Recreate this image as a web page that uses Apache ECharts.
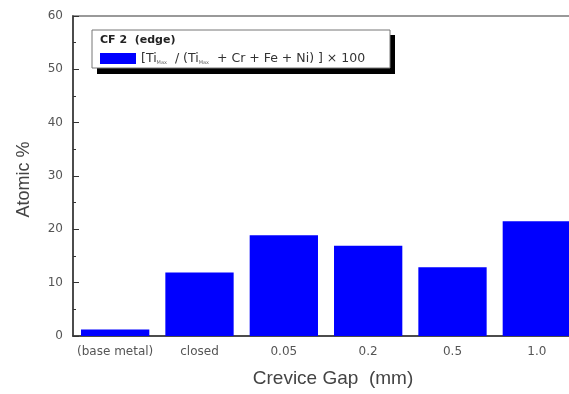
<!DOCTYPE html>
<html>
<head>
<meta charset="utf-8">
<script src="https://cdn.jsdelivr.net/npm/echarts@6/dist/echarts.min.js"></script>
<style>html,body{margin:0;padding:0;background:#fff;overflow:hidden;width:569px;height:394px;}#c{width:580px;height:394px;}</style>
</head>
<body>
<div id="c"></div>
<script>
var categories = ['(base metal)', 'closed', '0.05', '0.2', '0.5', '1.0'];
var values = [1.2, 11.9, 18.9, 16.9, 12.9, 21.5];
var seriesName = 'ratio';
var legendTitle = 'CF 2  (edge)';
var yTicks = {min: 0, max: 60, interval: 10};

var chart = echarts.init(document.getElementById('c'), null, {renderer: 'canvas'});
var font = 'DejaVu Sans';
chart.setOption({
  animation: false,
  backgroundColor: '#fff',
  textStyle: {fontFamily: font},
  grid: {left: 73, top: 16, bottom: 58, right: 1, show: true, borderColor: '#999', borderWidth: 2, backgroundColor: 'transparent'},
  graphic: [
    {type: 'rect', z: 1, shape: {x: 97, y: 35, width: 298, height: 39}, style: {fill: '#000'}},
    {type: 'rect', z: 2, shape: {x: 92, y: 30, width: 298, height: 38}, style: {fill: '#fff', stroke: '#777', lineWidth: 1}},
    {type: 'text', z: 3, x: 100, y: 35, style: {text: legendTitle, font: 'bold 11px "DejaVu Sans"', fill: '#222'}}
  ],
  legend: {
    left: 100, top: 52, padding: 0, z: 5,
    itemWidth: 36, itemHeight: 11, icon: 'rect',
    data: [seriesName],
    formatter: function () {
      return '[Ti{s|Max}  / (Ti{s|Max}  + Cr + Fe + Ni) ] × 100';
    },
    textStyle: {
      fontSize: 12.5, color: '#333', fontFamily: font,
      rich: {s: {fontSize: 5, color: '#666', verticalAlign: 'bottom', lineHeight: 14, padding: [7, 0, 0, 0]}}
    }
  },
  xAxis: {
    type: 'category', data: categories,
    axisLine: {lineStyle: {color: '#333', width: 1.5}},
    axisTick: {show: false},
    axisLabel: {fontSize: 12, color: '#555', margin: 10, interval: 0},
    name: 'Crevice Gap  (mm)', nameLocation: 'middle', nameGap: 33,
    nameTextStyle: {fontSize: 19, color: '#444', fontFamily: 'Liberation Sans', padding: [0, 0, 0, 14]}
  },
  yAxis: {
    type: 'value', min: yTicks.min, max: yTicks.max, interval: yTicks.interval,
    axisLine: {show: true, lineStyle: {color: '#333', width: 1.5}},
    axisTick: {show: true, inside: true, length: 6, lineStyle: {color: '#333'}},
    minorTick: {show: true, splitNumber: 2, length: 3, lineStyle: {color: '#333'}},
    splitLine: {show: false},
    axisLabel: {fontSize: 12, color: '#555', margin: 10},
    name: 'Atomic %', nameLocation: 'middle', nameGap: 40,
    nameTextStyle: {fontSize: 18, color: '#444', fontFamily: 'Liberation Sans', padding: [0, 7, 0, 0]}
  },
  series: [{
    name: seriesName, type: 'bar', data: values,
    barWidth: '81%',
    itemStyle: {color: '#0000ff'}
  }]
});
</script>
</body>
</html>
